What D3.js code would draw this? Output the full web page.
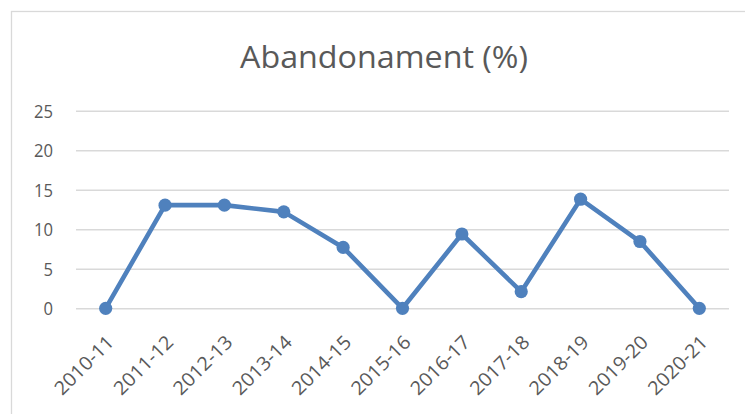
<!DOCTYPE html>
<html><head><meta charset="utf-8">
<script src="https://cdn.jsdelivr.net/npm/d3@7/dist/d3.min.js"></script>
<style>html,body{margin:0;padding:0;background:#fff;}svg{display:block;}</style>
</head><body>
<svg id="c" width="745" height="414"></svg>
<script>
const categories = ["2010-11","2011-12","2012-13","2013-14","2014-15","2015-16","2016-17","2017-18","2018-19","2019-20","2020-21"];
const values = [0, 13.05, 13.05, 12.2, 7.7, 0, 9.4, 2.1, 13.8, 8.45, 0];
const yTicks = [0, 5, 10, 15, 20, 25];
const title = "Abandonament (%)";

const svg = d3.select("#c");
const font = "'Open Sans', 'Liberation Sans', sans-serif";
const textColor = "#595959";
const gridColor = "#d9d9d9";
const lineColor = "#4f81bd";

// chart border
svg.append("rect").attr("x", 11.5).attr("y", 11.5).attr("width", 760).attr("height", 420)
  .attr("fill", "#fff").attr("stroke", gridColor).attr("stroke-width", 1.3);

const x = d3.scalePoint().domain(categories).range([76, 729]).padding(0.5);
const y = d3.scaleLinear().domain([0, 25]).range([308.3, 110.7]);

// title
const t = svg.append("text").attr("x", 384).attr("y", 67.5).attr("text-anchor", "middle")
  .attr("font-family", font).attr("font-size", 31).attr("font-weight", 400)
  .attr("fill", textColor).text(title);
t.attr("textLength", 288).attr("lengthAdjust", "spacingAndGlyphs");

// grid lines
const yAxis = d3.axisLeft(y).tickValues(yTicks).tickSize(-(729 - 76)).tickPadding(23);
const gy = svg.append("g").attr("transform", "translate(76,0)").call(yAxis);
gy.select(".domain").remove();
gy.selectAll(".tick line").attr("stroke", gridColor).attr("stroke-width", 1.4);
gy.selectAll(".tick text").attr("fill", textColor).attr("font-family", font).attr("font-size", 18)
  .attr("dy", "0.35em").attr("textLength", d => String(d).length * 9.5).attr("lengthAdjust", "spacingAndGlyphs");

// x axis labels
const xAxis = d3.axisBottom(x).tickSize(0).tickPadding(0);
const gx = svg.append("g").attr("transform", "translate(0,308.3)").call(xAxis);
gx.select(".domain").remove();
gx.selectAll(".tick text").attr("fill", textColor).attr("font-family", font).attr("font-size", 19)
  .attr("text-anchor", "end").attr("dy", 0).attr("y", 0)
  .attr("textLength", 75).attr("lengthAdjust", "spacingAndGlyphs")
  .attr("transform", "translate(9,35) rotate(-45)");

// line
const line = d3.line().x((d, i) => x(categories[i])).y(d => y(d));
svg.append("path").datum(values).attr("d", line).attr("fill", "none")
  .attr("stroke", lineColor).attr("stroke-width", 4.6).attr("stroke-linejoin", "round");

svg.selectAll("circle.pt").data(values).enter().append("circle").attr("class", "pt")
  .attr("cx", (d, i) => x(categories[i])).attr("cy", d => y(d)).attr("r", 6.6)
  .attr("fill", lineColor);
</script>
</body></html>
